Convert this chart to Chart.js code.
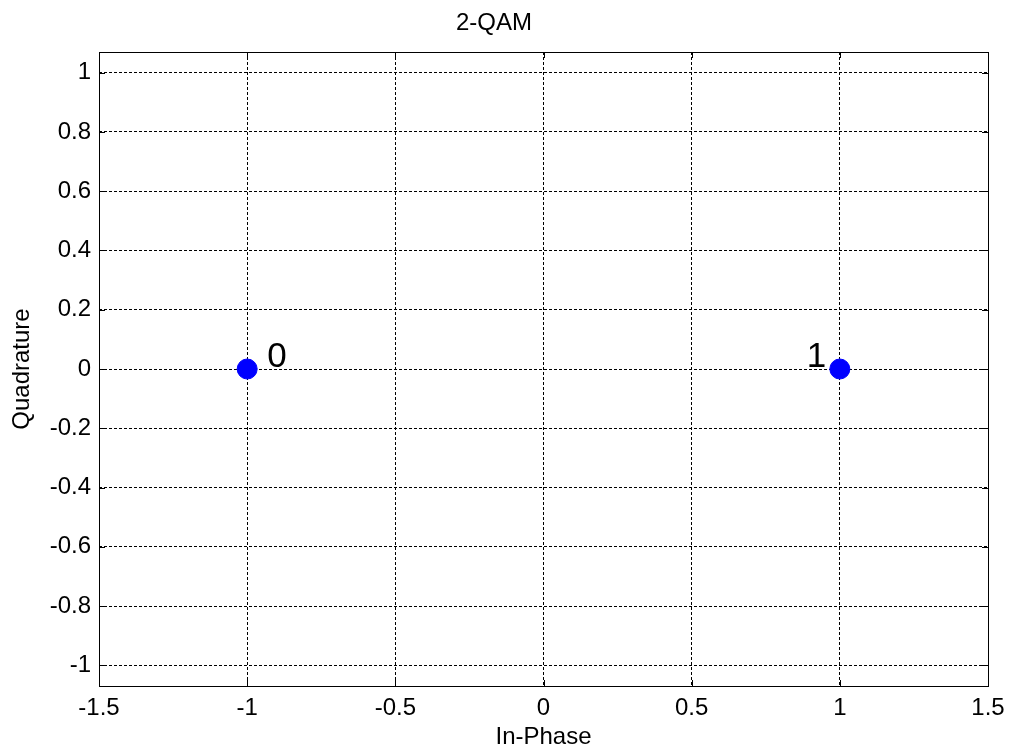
<!DOCTYPE html>
<html>
<head>
<meta charset="utf-8">
<title>2-QAM</title>
<script src="https://cdn.jsdelivr.net/npm/chart.js@4/dist/chart.umd.min.js"></script>
<style>
  html, body { margin: 0; padding: 0; background: #fff; }
  #wrap { width: 1009px; height: 749px; }
</style>
</head>
<body>
<div id="wrap"><canvas id="qam"></canvas></div>
<script>
// constellation points
const symbolI = [-1, 1];
const symbolQ = [0, 0];
const symbolLabels = ['0', '1'];

// axes
const xTicks = [-1.5, -1, -0.5, 0, 0.5, 1, 1.5];
const yTicks = [-1, -0.8, -0.6, -0.4, -0.2, 0, 0.2, 0.4, 0.6, 0.8, 1];
const xRange = [-1.5, 1.5];
const yRange = [-1.07, 1.07];

const FONT = "'Liberation Sans', Arial, sans-serif";

// frame + inward tick marks + symbol labels (matlab style)
const matlabAxes = {
	id: 'matlabAxes',
	afterDatasetsDraw(chart) {
		const ctx = chart.ctx;
		const { left, right, top, bottom } = chart.chartArea;
		const xs = chart.scales.x, ys = chart.scales.y;
		const tl = 6;
		ctx.save();
		ctx.strokeStyle = '#000';
		ctx.lineWidth = 1;
		ctx.setLineDash([]);
		ctx.beginPath();
		xTicks.forEach(v => {
			const px = Math.round(xs.getPixelForValue(v)) + 0.5;
			ctx.moveTo(px, bottom); ctx.lineTo(px, bottom - tl);
			ctx.moveTo(px, top); ctx.lineTo(px, top + tl);
		});
		yTicks.forEach(v => {
			const py = Math.round(ys.getPixelForValue(v)) + 0.5;
			ctx.moveTo(left, py); ctx.lineTo(left + tl, py);
			ctx.moveTo(right, py); ctx.lineTo(right - tl, py);
		});
		ctx.stroke();
		ctx.strokeRect(Math.round(left) + 0.5, Math.round(top) + 0.5,
			Math.round(right - left), Math.round(bottom - top));

		// point labels
		ctx.fillStyle = '#000';
		ctx.font = '35px ' + FONT;
		ctx.textBaseline = 'alphabetic';
		ctx.textAlign = 'left';
		symbolLabels.forEach((lab, i) => {
			const px = xs.getPixelForValue(symbolI[i]);
			const py = ys.getPixelForValue(symbolQ[i]);
			const dx = symbolI[i] < 0 ? 20 : -33;
			ctx.fillText(lab, px + dx, py - 2);
		});
		ctx.restore();
	}
};

const fmt = v => String(Math.round(v * 10) / 10);

new Chart(document.getElementById('qam'), {
	type: 'scatter',
	data: {
		datasets: [{
			label: '2-QAM',
			data: symbolI.map((x, i) => ({ x: x, y: symbolQ[i] })),
			backgroundColor: '#0000ff',
			borderColor: '#0000ff',
			pointRadius: 10,
			pointHoverRadius: 10
		}]
	},
	plugins: [matlabAxes],
	options: {
		responsive: true,
		maintainAspectRatio: false,
		animation: false,
		layout: { padding: { top: 0, right: 21, left: 0, bottom: 0 } },
		plugins: {
			legend: { display: false },
			tooltip: { enabled: false },
			title: {
				display: true,
				text: '2-QAM',
				color: '#000',
				font: { family: FONT, size: 24, weight: 'normal', lineHeight: 1 },
				padding: { top: 11, bottom: 17 }
			}
		},
		scales: {
			x: {
				type: 'linear',
				min: xRange[0],
				max: xRange[1],
				afterBuildTicks: s => { s.ticks = xTicks.map(v => ({ value: v })); },
				afterFit: s => { s.height = 63; s.paddingLeft = 0; s.paddingRight = 0; },
				grid: {
					color: '#000',
					lineWidth: 1,
					drawTicks: false
				},
				border: { display: false, dash: [3, 2] },
				ticks: {
					color: '#000',
					font: { family: FONT, size: 24 },
					padding: 8,
					maxRotation: 0,
					callback: fmt
				},
				title: {
					display: true,
					text: 'In-Phase',
					color: '#000',
					font: { family: FONT, size: 24, lineHeight: 1 },
					padding: { top: 0, bottom: 0 }
				}
			},
			y: {
				type: 'linear',
				min: yRange[0],
				max: yRange[1],
				afterBuildTicks: s => { s.ticks = yTicks.map(v => ({ value: v })); },
				afterFit: s => { s.width = 99; s.paddingTop = 0; s.paddingBottom = 0; },
				grid: {
					color: '#000',
					lineWidth: 1,
					drawTicks: false
				},
				border: { display: false, dash: [3, 2] },
				ticks: {
					color: '#000',
					font: { family: FONT, size: 24 },
					padding: 8,
					callback: fmt
				},
				title: {
					display: true,
					text: 'Quadrature',
					color: '#000',
					font: { family: FONT, size: 24, lineHeight: 1 },
					padding: { top: 10, bottom: 0 }
				}
			}
		}
	}
});
</script>
</body>
</html>
